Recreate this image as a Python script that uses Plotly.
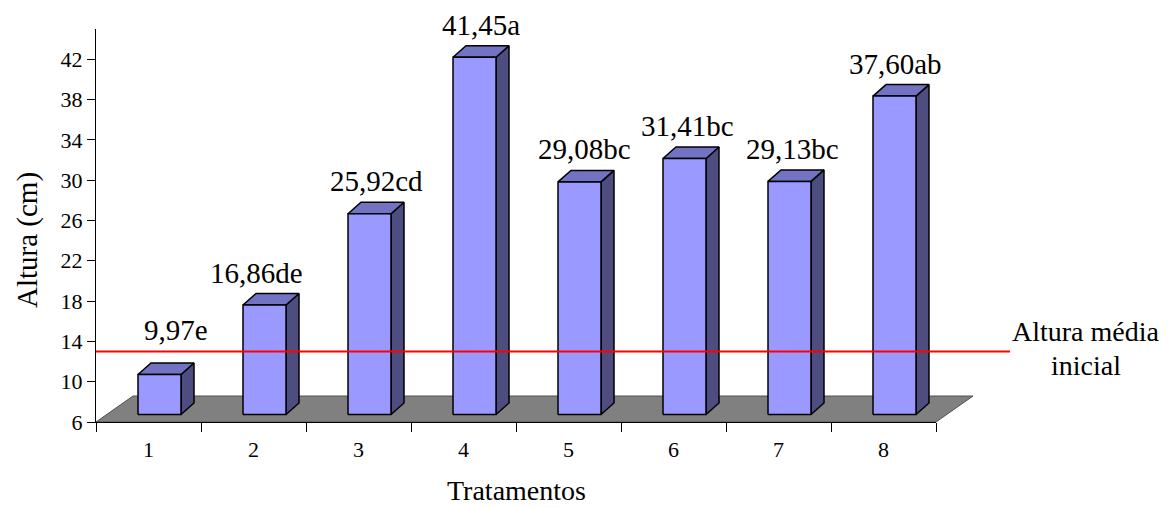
import plotly.graph_objects as go

# --- data -------------------------------------------------------------
tratamentos = ["1", "2", "3", "4", "5", "6", "7", "8"]
altura = [9.97, 16.86, 25.92, 41.45, 29.08, 31.41, 29.13, 37.60]
letras = ["e", "de", "cd", "a", "bc", "bc", "bc", "ab"]
altura_inicial = 13.0
y_ticks = [6, 10, 14, 18, 22, 26, 30, 34, 38, 42]

# --- canvas / axis geometry (pixels) ----------------------------------
W, H = 1168, 508
AX_LEFT, AX_RIGHT = 96, 936      # x-axis extent
AX_BOTTOM, AX_TOP = 422, 29      # y-axis extent
Y_MIN, Y_MAX = 6, 45

PX_PER_X = (AX_RIGHT - AX_LEFT) / len(tratamentos)
PX_PER_Y = (AX_BOTTOM - AX_TOP) / (Y_MAX - Y_MIN)
X0_PX = AX_LEFT + PX_PER_X / 2   # pixel of category 1


def ux(px):
    """pixel length -> x units"""
    return px / PX_PER_X


def uy(px):
    """pixel length -> y units"""
    return px / PX_PER_Y


# full-canvas ranges so the drawing layer shares the axis scale
x_full = [1 - X0_PX / PX_PER_X, 1 + (W - X0_PX) / PX_PER_X]
y_full = [Y_MIN - (H - AX_BOTTOM) / PX_PER_Y, Y_MIN + AX_BOTTOM / PX_PER_Y]

# 3-D look
FLOOR_DX, FLOOR_DY = ux(37), uy(26)
BAR_OFF_X, BAR_OFF_Y = ux(11), uy(7.5)
BAR_HALF = ux(21.5)
DEPTH_DX, DEPTH_DY = ux(13), uy(11.5)

FRONT = "#9999FF"
TOP = "#7373C4"
SIDE = "#4D4D80"
FLOOR = "#808080"
FONT = "Liberation Serif"

fig = go.Figure()


def poly(xs, ys, fill, line_color="black", width=1.5):
    fig.add_trace(go.Scatter(
        x=xs + [xs[0]], y=ys + [ys[0]], mode="lines", fill="toself",
        fillcolor=fill, line=dict(color=line_color, width=width),
        hoverinfo="skip", showlegend=False, xaxis="x", yaxis="y"))


# floor
xl, xr = 0.5, len(tratamentos) + 0.5
poly([xl, xr, xr + FLOOR_DX, xl + FLOOR_DX],
     [Y_MIN, Y_MIN, Y_MIN + FLOOR_DY, Y_MIN + FLOOR_DY],
     FLOOR, line_color="#505050", width=1)

# bars: side, top, front
for i, v in enumerate(altura):
    c = i + 1
    x0 = c + BAR_OFF_X - BAR_HALF
    x1 = c + BAR_OFF_X + BAR_HALF
    yb = Y_MIN + BAR_OFF_Y
    yt = v + BAR_OFF_Y
    poly([x1, x1 + DEPTH_DX, x1 + DEPTH_DX, x1],
         [yb, yb + DEPTH_DY, yt + DEPTH_DY, yt], SIDE)
    poly([x0, x1, x1 + DEPTH_DX, x0 + DEPTH_DX],
         [yt, yt, yt + DEPTH_DY, yt + DEPTH_DY], TOP)
    poly([x0, x1, x1, x0], [yb, yb, yt, yt], FRONT)

# initial mean height
line_end = 1 + (1010 - X0_PX) / PX_PER_X
fig.add_trace(go.Scatter(
    x=[0.5, line_end], y=[altura_inicial, altura_inicial], mode="lines",
    line=dict(color="#FF0000", width=2), hoverinfo="skip",
    showlegend=False, xaxis="x", yaxis="y"))

# carrier trace for the visible category axis
fig.add_trace(go.Scatter(
    x=tratamentos, y=altura, mode="markers", marker=dict(opacity=0),
    hoverinfo="skip", showlegend=False, xaxis="x2", yaxis="y2"))

# value + letter labels above each bar (nudges in pixels)
label_dx = [10, -15, 0, 0, -2, -4, -4, -6]
label_dy = [15, 3, 3, 3, 3, 3, 3, 3]
annotations = []
for i, (v, l) in enumerate(zip(altura, letras)):
    c = i + 1
    annotations.append(dict(
        x=c + BAR_OFF_X + DEPTH_DX / 2, y=v + BAR_OFF_Y + DEPTH_DY,
        xref="x", yref="y", text=f"{v:.2f}".replace(".", ",") + l,
        showarrow=False, xanchor="center", yanchor="bottom",
        xshift=label_dx[i], yshift=label_dy[i],
        font=dict(family=FONT, size=29, color="black")))

annotations += [
    dict(x=1086 / W, y=1 - 331 / H, xref="paper", yref="paper",
         text="Altura média", showarrow=False,
         xanchor="center", yanchor="middle",
         font=dict(family=FONT, size=28, color="black")),
    dict(x=1086 / W, y=1 - 365 / H, xref="paper", yref="paper",
         text="inicial", showarrow=False,
         xanchor="center", yanchor="middle",
         font=dict(family=FONT, size=28, color="black")),
    dict(x=(AX_LEFT + AX_RIGHT) / 2 / W, y=1 - 490 / H, xref="paper",
         yref="paper", text="Tratamentos", showarrow=False,
         xanchor="center", yanchor="middle",
         font=dict(family=FONT, size=28, color="black")),
    dict(x=27 / W, y=1 - 240 / H, xref="paper", yref="paper",
         text="Altura (cm)", showarrow=False, textangle=-90,
         xanchor="center", yanchor="middle",
         font=dict(family=FONT, size=29, color="black")),
]

hidden = dict(visible=False, showgrid=False, zeroline=False,
              fixedrange=True, automargin=False)

fig.update_layout(
    width=W, height=H, autosize=False,
    margin=dict(l=0, r=0, t=0, b=0, pad=0),
    paper_bgcolor="white", plot_bgcolor="rgba(0,0,0,0)",
    showlegend=False,
    xaxis=dict(domain=[0, 1], range=x_full, anchor="y", **hidden),
    yaxis=dict(domain=[0, 1], range=y_full, anchor="x", **hidden),
    xaxis2=dict(
        domain=[AX_LEFT / W, AX_RIGHT / W], anchor="y2", type="category",
        categoryorder="array", categoryarray=tratamentos,
        range=[-0.5, len(tratamentos) - 0.5], tickson="boundaries",
        ticks="outside", ticklen=9, tickcolor="black", tickwidth=1,
        ticklabelstandoff=8, automargin=False,
        showline=True, linecolor="black", linewidth=1, showgrid=False,
        zeroline=False, tickfont=dict(family=FONT, size=22, color="black"),
        fixedrange=True),
    yaxis2=dict(
        domain=[1 - AX_BOTTOM / H, 1 - AX_TOP / H], anchor="x2",
        range=[Y_MIN, Y_MAX], tickvals=y_ticks, ticks="outside", ticklen=8,
        tickcolor="black", tickwidth=1, showline=True, linecolor="black",
        linewidth=1, showgrid=False, zeroline=False, automargin=False,
        tickfont=dict(family=FONT, size=22, color="black"), fixedrange=True),
    annotations=annotations,
)

fig.write_html("out.html")
